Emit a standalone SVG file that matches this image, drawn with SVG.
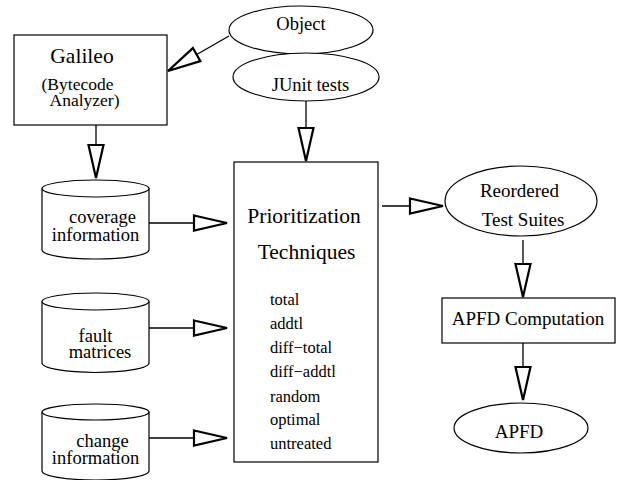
<svg xmlns="http://www.w3.org/2000/svg" width="621" height="480" viewBox="0 0 621 480">
<style>
  .shape{fill:#fff;stroke:#000;stroke-width:1.2}
  text{font-family:'Liberation Serif','DejaVu Serif',serif;fill:#000}
  .t{text-anchor:middle}
  .l{font-size:16.5px}
  .conn line{stroke:#000;stroke-width:1.3;fill:none;marker-end:url(#ah)}
</style>
<defs>
  <marker id="ah" markerUnits="userSpaceOnUse" markerWidth="44" markerHeight="24" viewBox="-4 -12 44 24" refX="33" refY="0" orient="auto" overflow="visible">
    <path d="M0,-7.5 L33,0 L0,7.5 Z" fill="#fff" stroke="#000" stroke-width="2.2" stroke-linejoin="miter"/>
  </marker>
</defs>
<rect width="621" height="480" fill="#fff"/>

<g id="galileo" font-family="Liberation Serif, serif">
  <rect class="shape" x="14" y="35" width="153" height="90"/>
  <text class="t" x="82" y="63" font-size="21.5">Galileo</text>
  <text class="t" x="77.5" y="90" font-size="17.5">(Bytecode</text>
  <text class="t" x="84.5" y="106" font-size="17.5">Analyzer)</text>
</g>

<g id="object" font-family="Liberation Serif, serif">
  <ellipse class="shape" cx="301" cy="30" rx="72" ry="24"/>
  <text class="t" x="301" y="30" font-size="18.5">Object</text>
</g>

<g id="junit" font-family="Liberation Serif, serif">
  <ellipse class="shape" cx="306" cy="77" rx="73" ry="24"/>
  <text class="t" x="310.5" y="91" font-size="18.5">JUnit tests</text>
</g>

<g id="coverage" font-family="Liberation Serif, serif">
  <path class="shape" d="M42,188.5 L42,250 A53.5,9 0 0 0 149,250 L149,188.5"/>
  <ellipse class="shape" cx="95.5" cy="188.5" rx="53.5" ry="8.5"/>
  <text class="t" x="102.5" y="223" font-size="18.5">coverage</text>
  <text class="t" x="95.5" y="241" font-size="18.5">information</text>
</g>

<g id="fault" font-family="Liberation Serif, serif">
  <path class="shape" d="M42,301.5 L42,363 A53.5,9.5 0 0 0 149,363 L149,301.5"/>
  <ellipse class="shape" cx="95.5" cy="301.5" rx="53.5" ry="8.5"/>
  <text class="t" x="95.5" y="342" font-size="18.5">fault</text>
  <text class="t" x="100" y="358" font-size="18.5">matrices</text>
</g>

<g id="change" font-family="Liberation Serif, serif">
  <path class="shape" d="M42,412 L42,471 A53.5,9 0 0 0 149,471 L149,412"/>
  <ellipse class="shape" cx="95.5" cy="412" rx="53.5" ry="8"/>
  <text class="t" x="102.5" y="447" font-size="18.5">change</text>
  <text class="t" x="95.5" y="464" font-size="18.5">information</text>
</g>

<g id="prioritization" font-family="Liberation Serif, serif">
  <rect class="shape" x="234" y="162" width="144" height="300"/>
  <text class="t" x="304" y="223" font-size="21.5">Prioritization</text>
  <text class="t" x="306.5" y="259" font-size="21.5">Techniques</text>
  <text class="l" x="270" y="305">total</text>
  <text class="l" x="270" y="329">addtl</text>
  <text class="l" x="270" y="353">diff−total</text>
  <text class="l" x="270" y="377">diff−addtl</text>
  <text class="l" x="270" y="402">random</text>
  <text class="l" x="270" y="425">optimal</text>
  <text class="l" x="270" y="449">untreated</text>
</g>

<g id="reordered" font-family="Liberation Serif, serif">
  <ellipse class="shape" cx="521" cy="201" rx="76" ry="35"/>
  <text class="t" x="519.5" y="197" font-size="19">Reordered</text>
  <text class="t" x="523" y="226" font-size="19">Test Suites</text>
</g>

<g id="apfdcomp" font-family="Liberation Serif, serif">
  <rect class="shape" x="442" y="298" width="173" height="45"/>
  <text class="t" x="528" y="325" font-size="19">APFD Computation</text>
</g>

<g id="apfd" font-family="Liberation Serif, serif">
  <ellipse class="shape" cx="521" cy="428" rx="67" ry="25"/>
  <text class="t" x="519" y="438" font-size="19">APFD</text>
</g>

<g id="connectors" class="conn">
  <line x1="229" y1="36" x2="168" y2="71"/>
  <line x1="96" y1="125" x2="96" y2="178"/>
  <line x1="306" y1="101" x2="306" y2="161"/>
  <line x1="149" y1="223" x2="227" y2="223"/>
  <line x1="149" y1="328" x2="227" y2="328"/>
  <line x1="149" y1="438" x2="227" y2="438"/>
  <line x1="382" y1="206" x2="443" y2="206"/>
  <line x1="523" y1="240" x2="523" y2="297"/>
  <line x1="523" y1="343" x2="523" y2="400"/>
</g>
</svg>
